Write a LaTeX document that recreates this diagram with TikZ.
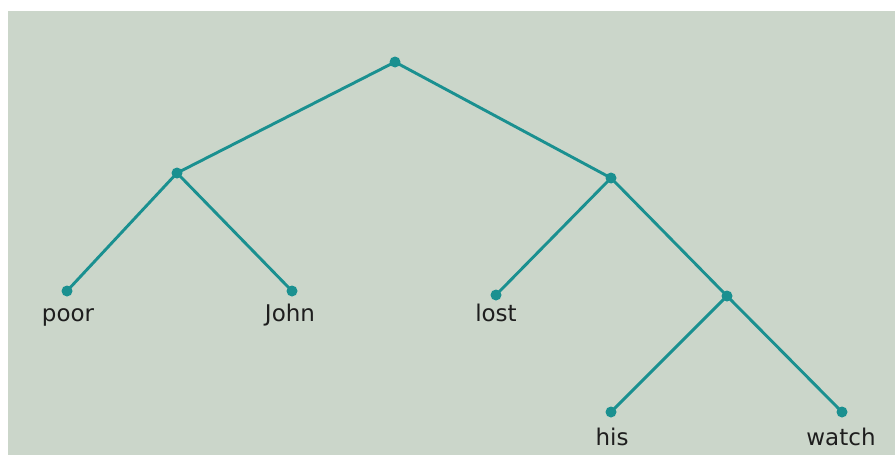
\documentclass[tikz,border=0pt]{standalone}
\usepackage{fontspec}
\setmainfont{DejaVu Sans}
\definecolor{bgc}{HTML}{CBD6CA}
\definecolor{teal}{HTML}{1A9090}
\definecolor{ink}{HTML}{1E1E1E}
\tikzset{
  dotnode/.style={circle, fill=teal, inner sep=0pt, minimum size=11pt},
  edge/.style={draw=teal, line width=2.9pt},
  lbl/.style={anchor=base, text=ink, font=\fontsize{23}{26}\selectfont, inner sep=0pt}
}
\begin{document}
\begin{tikzpicture}[x=1pt, y=-1pt]
\useasboundingbox (0,0) rectangle (895,455);
\fill[white] (0,0) rectangle (895,455);
\fill[bgc] (8,11) rectangle (895,455);
% nodes
\node[dotnode] (s) at (395,62) {};
\node[dotnode] (np) at (177,173) {};
\node[dotnode] (vp) at (611,178) {};
\node[dotnode] (poor) at (67,291) {};
\node[dotnode] (john) at (292,291) {};
\node[dotnode] (lost) at (496,295) {};
\node[dotnode] (obj) at (727,296) {};
\node[dotnode] (his) at (611,412) {};
\node[dotnode] (watch) at (842,412) {};
% edges
\path[edge] (s.center) -- (np.center);
\path[edge] (s.center) -- (vp.center);
\path[edge] (np.center) -- (poor.center);
\path[edge] (np.center) -- (john.center);
\path[edge] (vp.center) -- (lost.center);
\path[edge] (vp.center) -- (obj.center);
\path[edge] (obj.center) -- (his.center);
\path[edge] (obj.center) -- (watch.center);
% labels
\node[lbl] (tpoor) at (68,321) {poor};
\node[lbl] (tjohn) at (290,321) {John};
\node[lbl] (tlost) at (496,321) {lost};
\node[lbl] (this) at (612,445) {his};
\node[lbl] (twatch) at (841,445) {watch};
\end{tikzpicture}
\end{document}
